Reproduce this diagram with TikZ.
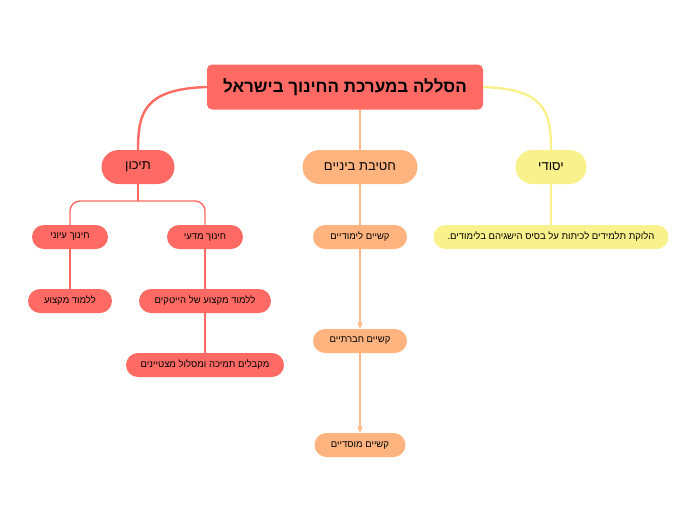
\documentclass[tikz,border=0pt]{standalone}
\usepackage{fontspec}
\usetikzlibrary{arrows.meta}
\TeXXeTstate=1
\newfontfamily\hebfont[Script=Hebrew]{Liberation Sans}
\definecolor{tikonred}{RGB}{255,107,100}
\definecolor{hativaorange}{RGB}{255,180,128}
\definecolor{hativaline}{RGB}{255,184,136}
\definecolor{yesodiyellow}{RGB}{249,241,139}
\newcommand{\heb}[1]{\hebfont\beginR #1\endR}

\begin{document}
\begin{tikzpicture}[x=1pt,y=-1pt,
    title/.style={fill=tikonred, rounded corners=5pt, minimum width=276pt, minimum height=45pt, font=\hebfont\bfseries\fontsize{17}{20}\selectfont},
    stage/.style={rounded corners=17pt, minimum height=34pt, font=\hebfont\fontsize{13}{15}\selectfont},
    topic/.style={rounded corners=12pt, minimum height=24pt, font=\hebfont\fontsize{9.5}{11}\selectfont},
    mainline/.style={line width=2.4pt},
    subline/.style={line width=1.4pt}]
    \useasboundingbox (0,0) rectangle (696,520);

    \node[title] (title) at (345,87) {\heb{הסללה במערכת החינוך בישראל}};

    \node[stage, fill=tikonred, minimum width=73pt] (tikon) at (138,167) {\heb{תיכון}};
    \node[stage, fill=hativaorange, minimum width=115pt] (hativa) at (360,167) {\heb{חטיבת ביניים}};
    \node[stage, fill=yesodiyellow, minimum width=71pt] (yesodi) at (551,167) {\heb{יסודי}};

    \node[topic, fill=tikonred, minimum width=76pt] (iyuni) at (70,237) {\heb{חינוך עיוני}};
    \node[topic, fill=tikonred, minimum width=76pt] (madai) at (205,237) {\heb{חינוך מדעי}};
    \node[topic, fill=tikonred, minimum width=84pt] (miktzoa) at (70,301) {\heb{ללמוד מקצוע}};
    \node[topic, fill=tikonred, minimum width=132pt] (hitech) at (205,301) {\heb{ללמוד מקצוע של הייטקים}};
    \node[topic, fill=tikonred, minimum width=158pt] (metzuyanim) at (205,365) {\heb{מקבלים תמיכה ומסלול מצטיינים}};

    \node[topic, fill=hativaorange, minimum width=94pt] (limudi) at (360,237) {\heb{קשיים לימודיים}};
    \node[topic, fill=hativaorange, minimum width=94pt] (hevrati) at (360,341) {\heb{קשיים חברתיים}};
    \node[topic, fill=hativaorange, minimum width=91pt] (mosadi) at (360,445) {\heb{קשיים מוסדיים}};

    \node[topic, fill=yesodiyellow, minimum width=235pt] (haluka) at (551,237) {\heb{הלוקת תלמידים לכיתות על בסיס הישגיהם בלימודים.}};

    % main branches
    \draw[mainline, tikonred] (title.west) .. controls +(-62,2) and +(0,-38) .. (tikon.north);
    \draw[mainline, yesodiyellow] (title.east) .. controls +(62,2) and +(0,-38) .. (yesodi.north);
    \draw[mainline, hativaline] (title.south -| hativa.north) -- (hativa.north);

    % tikon
    \coordinate (split) at (138,201);
    \draw[subline, tikonred] (tikon.south) -- (split);
    \draw[subline, tikonred, rounded corners=10pt] (split) -| (iyuni.north);
    \draw[subline, tikonred, rounded corners=10pt] (split) -| (madai.north);
    \draw[subline, tikonred] (iyuni.south) -- (miktzoa.north);
    \draw[subline, tikonred] (madai.south) -- (hitech.north);
    \draw[subline, tikonred] (hitech.south) -- (metzuyanim.north);

    % hativa
    \draw[subline, hativaline] (hativa.south) -- (limudi.north);
    \draw[subline, hativaline, -{Stealth[length=7pt,width=6pt]}] (limudi.south) -- (hevrati.north);
    \draw[subline, hativaline, -{Stealth[length=7pt,width=6pt]}] (hevrati.south) -- (mosadi.north);

    % yesodi
    \draw[subline, yesodiyellow] (yesodi.south) -- (haluka.north);
\end{tikzpicture}
\end{document}
